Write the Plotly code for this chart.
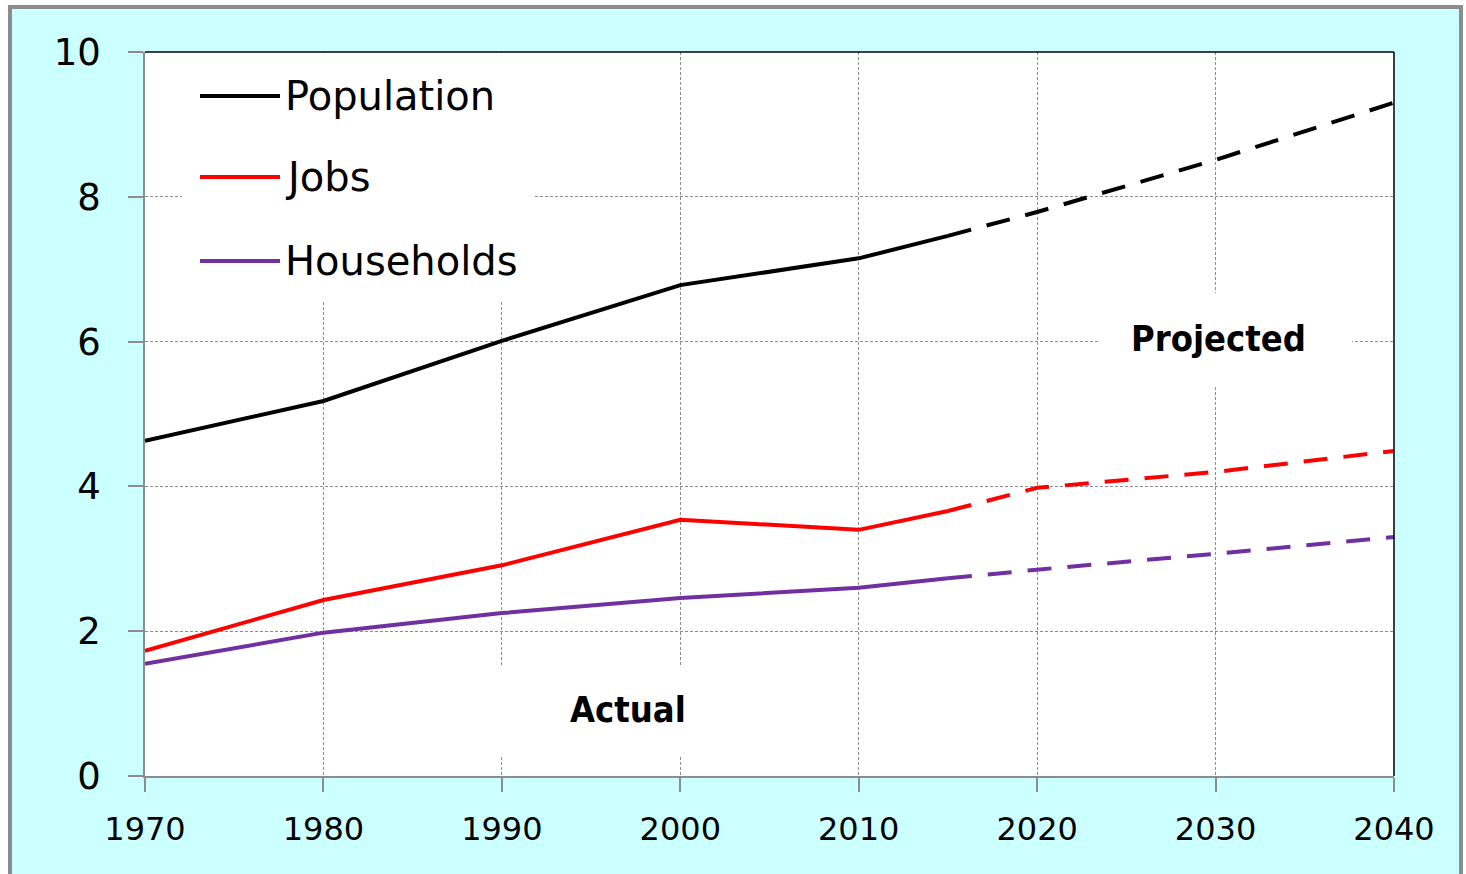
import plotly.graph_objects as go

years_actual = [1970, 1980, 1990, 2000, 2010, 2015]
years_proj = [2015, 2020, 2030, 2040]

pop_actual = [4.63, 5.18, 6.01, 6.78, 7.15, 7.46]
pop_proj = [7.46, 7.79, 8.51, 9.30]
jobs_actual = [1.73, 2.43, 2.91, 3.54, 3.40, 3.66]
jobs_proj = [3.66, 3.98, 4.20, 4.49]
hh_actual = [1.55, 1.98, 2.25, 2.46, 2.60, 2.73]
hh_proj = [2.73, 2.85, 3.07, 3.30]

series_names = ["Population", "Jobs", "Households"]
series_colors = ["#000000", "#FF0000", "#7030A0"]

x_ticks = [1970, 1980, 1990, 2000, 2010, 2020, 2030, 2040]
y_ticks = [0, 2, 4, 6, 8, 10]

W, H = 1466, 874
L, R, T, B = 145, 1394, 52, 776
pw, ph = R - L, B - T


def px_x(p):
    return (p - L) / pw


def px_y(p):
    return (B - p) / ph


fig = go.Figure()
actuals = [pop_actual, jobs_actual, hh_actual]
projs = [pop_proj, jobs_proj, hh_proj]
for name, col, a, p in zip(series_names, series_colors, actuals, projs):
    fig.add_trace(go.Scatter(x=years_actual, y=a, mode="lines", name=name,
                             line=dict(color=col, width=4), showlegend=False))
    fig.add_trace(go.Scatter(x=years_proj, y=p, mode="lines", name=name + " (projected)",
                             line=dict(color=col, width=4, dash="24px,16px"), showlegend=False))

shapes = []
# outer cyan panel with grey border
shapes.append(dict(type="rect", xref="paper", yref="paper",
                   x0=px_x(10), x1=px_x(1461), y0=px_y(890), y1=px_y(7),
                   fillcolor="#CCFFFF", line=dict(color="#8C8C8C", width=4), layer="below"))
# white plot area
shapes.append(dict(type="rect", xref="paper", yref="paper", x0=0, x1=1, y0=0, y1=1,
                   fillcolor="white", line=dict(width=0), layer="below"))
# white boxes behind texts (hide gridlines)
shapes.append(dict(type="rect", xref="paper", yref="paper",
                   x0=px_x(182), x1=px_x(533), y0=px_y(300), y1=px_y(53),
                   fillcolor="white", line=dict(width=0), layer="above"))
shapes.append(dict(type="rect", xref="paper", yref="paper",
                   x0=px_x(1098), x1=px_x(1352), y0=px_y(385), y1=px_y(293),
                   fillcolor="white", line=dict(width=0), layer="above"))
shapes.append(dict(type="rect", xref="paper", yref="paper",
                   x0=px_x(490), x1=px_x(700), y0=px_y(757), y1=px_y(665),
                   fillcolor="white", line=dict(width=0), layer="above"))
# top and right black borders
shapes.append(dict(type="line", xref="paper", yref="paper", x0=0, x1=1, y0=1, y1=1,
                   line=dict(color="black", width=1.5)))
shapes.append(dict(type="line", xref="paper", yref="paper", x0=1, x1=1, y0=0, y1=1,
                   line=dict(color="black", width=1.5)))

annotations = []
legend_y = [96, 177, 261]
for name, col, ly in zip(series_names, series_colors, legend_y):
    shapes.append(dict(type="line", xref="paper", yref="paper",
                       x0=px_x(200), x1=px_x(280), y0=px_y(ly), y1=px_y(ly),
                       line=dict(color=col, width=4)))
    annotations.append(dict(xref="paper", yref="paper", x=px_x(283), y=px_y(ly),
                            text=name, showarrow=False, xanchor="left", yanchor="middle",
                            font=dict(family="DejaVu Sans", size=40, color="black")))

annotations.append(dict(xref="paper", yref="paper", x=px_x(628), y=px_y(709),
                        text="<b>Actual</b>", showarrow=False,
                        xanchor="center", yanchor="middle",
                        font=dict(family="DejaVu Sans Condensed", size=36, color="black")))
annotations.append(dict(xref="paper", yref="paper", x=px_x(1218), y=px_y(338),
                        text="<b>Projected</b>", showarrow=False,
                        xanchor="center", yanchor="middle",
                        font=dict(family="DejaVu Sans Condensed", size=36, color="black")))

fig.update_layout(
    width=W, height=H,
    margin=dict(l=L, r=W - R, t=T, b=H - B, pad=0),
    paper_bgcolor="white", plot_bgcolor="rgba(0,0,0,0)",
    shapes=shapes, annotations=annotations, showlegend=False,
    xaxis=dict(range=[1970, 2040], tickvals=x_ticks, ticktext=[str(v) for v in x_ticks],
               showgrid=True, gridcolor="#8C8C8C", gridwidth=1, griddash="3px,2px",
               zeroline=False, showline=True, linecolor="#8C8C8C", linewidth=1.5,
               ticks="outside", ticklen=14, tickcolor="#8C8C8C", tickwidth=1.5,
               tickfont=dict(family="DejaVu Sans", size=32, color="black"),
               ticklabelstandoff=10),
    yaxis=dict(range=[0, 10], tickvals=y_ticks, ticktext=[str(v) for v in y_ticks],
               showgrid=True, gridcolor="#8C8C8C", gridwidth=1, griddash="3px,2px",
               zeroline=False, showline=True, linecolor="#8C8C8C", linewidth=1.5,
               ticks="outside", ticklen=15, tickcolor="#8C8C8C", tickwidth=1.5,
               tickfont=dict(family="DejaVu Sans", size=37, color="black"),
               ticklabelstandoff=20),
)

fig.write_html("out.html")
